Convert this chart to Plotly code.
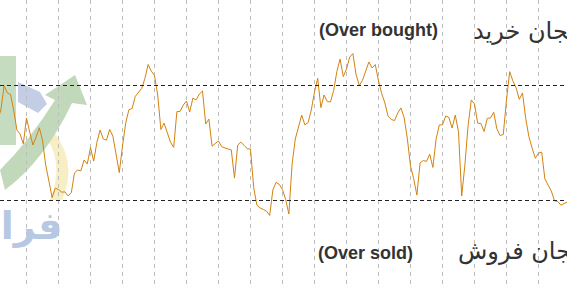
import plotly.graph_objects as go

# RSI-like oscillator values (one per bar)
bars = list(range(-9, 170))
rsi = [
    58.0, 61.5, 69.9, 67.4, 66.9, 61.5, 54.5, 53.1, 49.7,
    58.7, 53.8, 49.3, 52.1, 55.3, 51.0, 42.3, 36.8, 31.0, 34.3,
    33.8, 32.9, 33.0, 31.6, 32.7, 39.6, 40.6, 40.3, 44.1, 42.7,
    48.4, 43.7, 50.2, 54.5, 51.4, 51.0, 54.7, 52.4, 46.7, 39.7,
    49.0, 56.9, 61.6, 62.0, 66.2, 67.8, 69.0, 72.4, 77.3, 75.0,
    73.5, 66.7, 54.7, 56.9, 53.4, 50.3, 48.5, 60.9, 61.0, 63.2,
    64.6, 60.8, 65.6, 65.0, 67.0, 68.1, 56.6, 58.3, 48.9, 49.8,
    50.7, 48.7, 48.2, 47.9, 47.6, 37.8, 49.3, 50.3, 49.2, 48.0,
    47.9, 34.5, 28.4, 27.4, 26.9, 26.3, 24.8, 33.7, 36.3, 35.6,
    33.8, 30.3, 25.3, 42.7, 51.4, 55.4, 59.7, 56.3, 57.1, 61.5,
    67.8, 72.5, 62.3, 66.7, 64.4, 64.3, 68.3, 74.9, 79.2, 73.1,
    75.7, 79.9, 81.1, 73.8, 70.0, 71.8, 74.8, 78.2, 76.1, 77.3,
    71.6, 67.2, 63.9, 59.3, 58.2, 57.8, 60.4, 62.2, 58.9, 51.7,
    42.0, 37.6, 31.9, 43.1, 43.9, 43.6, 46.1, 41.5, 51.3, 56.3,
    56.3, 59.4, 58.9, 55.2, 59.7, 53.9, 31.6, 42.3, 56.1, 65.0,
    63.6, 56.9, 56.8, 54.0, 58.6, 58.7, 60.7, 54.9, 52.6, 53.0,
    65.0, 74.8, 71.6, 69.2, 65.2, 67.4, 58.6, 52.2, 48.3, 44.7,
    46.5, 46.8, 37.5, 35.5, 33.3, 29.9, 29.7, 28.4, 29.0, 29.5,
]
overbought = 70
oversold = 30

labels_top = ["(Over bought)", "هیجان خرید"]
labels_bottom = ["(Over sold)", "هیجان فروش"]

W, H = 567, 284


def px(x):
    return x / W


def py(y):
    return 1 - y / H


fig = go.Figure()
fig.add_trace(go.Scatter(x=bars, y=rsi, mode="lines",
                         line=dict(color="#d4820f", width=1),
                         hoverinfo="skip", showlegend=False))

shapes = []
# faint watermark logo (decoration)
shapes.append(dict(type="rect", xref="paper", yref="paper", layer="below",
                   x0=px(0), x1=px(16), y0=py(145), y1=py(56),
                   fillcolor="#c6dcc0", line=dict(width=0)))
shapes.append(dict(type="path", xref="paper", yref="paper", layer="below",
                   path=f"M {px(18)} {py(82)} L {px(40)} {py(92)} L {px(47)} {py(104)} L {px(38)} {py(113)} L {px(18)} {py(102)} Z",
                   fillcolor="#c3cde6", line=dict(width=0)))
shapes.append(dict(type="path", xref="paper", yref="paper", layer="below",
                   path=f"M {px(48)} {py(125)} Q {px(80)} {py(160)} {px(62)} {py(200)} L {px(50)} {py(200)} Q {px(66)} {py(160)} {px(42)} {py(132)} Z",
                   fillcolor="#f8eec4", line=dict(width=0)))
shapes.append(dict(type="path", xref="paper", yref="paper", layer="below",
                   path=f"M {px(0)} {py(170)} Q {px(30)} {py(140)} {px(55)} {py(100)} L {px(45)} {py(95)} L {px(75)} {py(75)} L {px(87)} {py(105)} L {px(72)} {py(103)} Q {px(45)} {py(160)} {px(5)} {py(190)} Z",
                   fillcolor="#c2d8bb", line=dict(width=0)))
for lvl in (overbought, oversold):
    shapes.append(dict(type="line", xref="paper", yref="y", x0=0, x1=1,
                       y0=lvl, y1=lvl, layer="above",
                       line=dict(color="#222222", width=1, dash="4px,3px")))

annotations = [
    dict(text="<b>فراچارت</b>", xref="paper", yref="paper", x=px(64), y=py(226),
         xanchor="right", yanchor="middle", showarrow=False,
         font=dict(family="DejaVu Sans", size=38, color="#b7c8e2")),
    dict(text="<b>" + labels_top[0] + "</b>", xref="paper", yref="paper",
         x=px(378.5), y=py(30), xanchor="center", yanchor="middle", showarrow=False,
         font=dict(family="Liberation Sans, Arial", size=18, color="#333333")),
    dict(text=labels_top[1], xref="paper", yref="paper",
         x=px(471), y=py(31), xanchor="left", yanchor="middle", showarrow=False,
         font=dict(family="DejaVu Sans", size=24, color="#333333")),
    dict(text="<b>" + labels_bottom[0] + "</b>", xref="paper", yref="paper",
         x=px(365.5), y=py(253), xanchor="center", yanchor="middle", showarrow=False,
         font=dict(family="Liberation Sans, Arial", size=18, color="#333333")),
    dict(text=labels_bottom[1], xref="paper", yref="paper",
         x=px(456), y=py(251), xanchor="left", yanchor="middle", showarrow=False,
         font=dict(family="DejaVu Sans", size=24, color="#333333")),
]

fig.update_layout(
    width=W, height=H, autosize=False,
    margin=dict(l=0, r=0, t=0, b=0, pad=0),
    paper_bgcolor="white", plot_bgcolor="white",
    shapes=shapes, annotations=annotations,
    xaxis=dict(range=[-8.28, 168.91], tick0=0, dtick=10, showgrid=True,
               gridcolor="#bdbdbd", gridwidth=1, griddash="4px,4px",
               showticklabels=False, zeroline=False, showline=False, ticks=""),
    yaxis=dict(range=[0.96, 99.74], showgrid=False, showticklabels=False,
               zeroline=False, showline=False, ticks=""),
)

fig.write_html("out.html", config={"displayModeBar": False})
